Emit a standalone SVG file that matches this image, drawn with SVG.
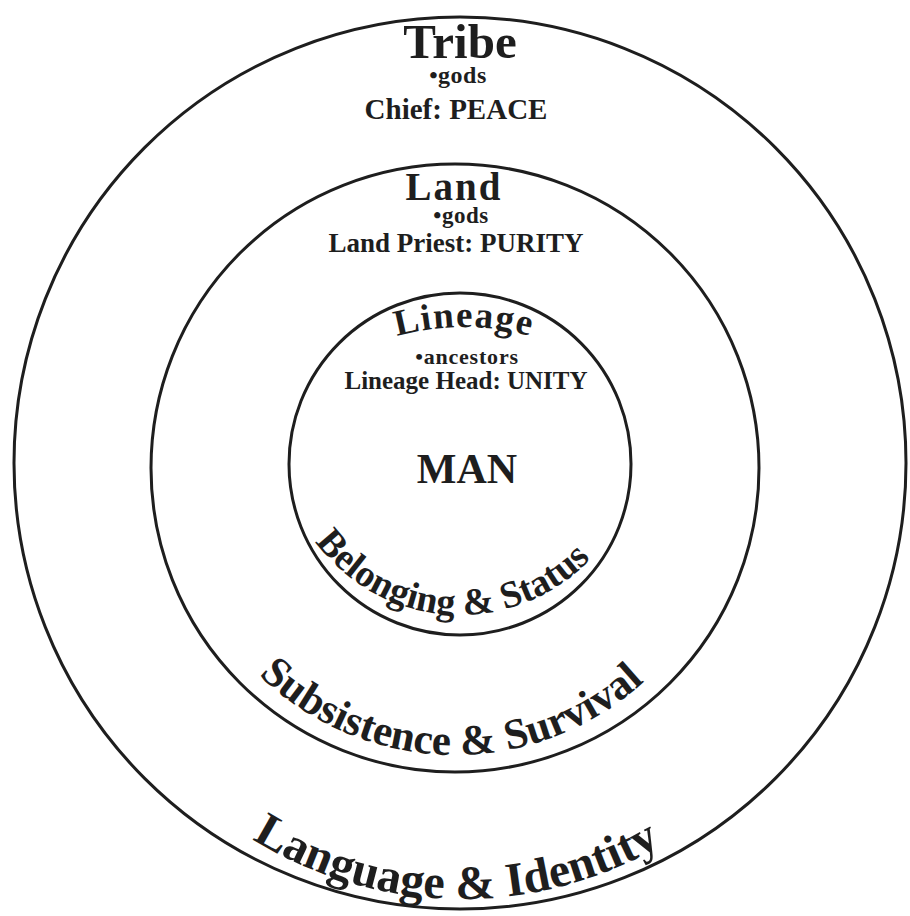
<svg xmlns="http://www.w3.org/2000/svg" xmlns:xlink="http://www.w3.org/1999/xlink" width="910" height="916" viewBox="0 0 910 916">
<style>
.ring{fill:none;stroke:#1e1e1e;stroke-width:3}
text{font-family:"Liberation Serif","Times New Roman",serif;font-weight:bold;fill:#1e1e1e;text-anchor:middle}
</style>
<defs>
<path id="pLineage" d="M 364,348 A 250 250 0 0 1 564,348"/>
<path id="pBelong" d="M 290.9,496.6 A 180 180 0 0 0 629.1,496.6"/>
<path id="pSubs" d="M 212.5,615 A 280 280 0 0 0 697.5,615"/>
<path id="pLang" d="M 181.3,782.7 A 397 397 0 0 0 742.7,782.7"/>
</defs>
<rect width="910" height="916" fill="#ffffff"/>
<g id="tribe">
<circle class="ring" cx="460" cy="463" r="446"/>
<text x="460" y="58" font-size="49">Tribe</text>
<text x="458" y="83" font-size="24" letter-spacing="0.5">•gods</text>
<text x="456" y="119" font-size="29">Chief: PEACE</text>
<text font-size="48"><textPath xlink:href="#pLang" href="#pLang" startOffset="49%">Language &amp; Identity</textPath></text>
</g>
<g id="land">
<circle class="ring" cx="455" cy="468" r="304"/>
<text x="454" y="200" font-size="39" letter-spacing="2">Land</text>
<text x="461" y="223" font-size="23" letter-spacing="0.5">•gods</text>
<text x="456" y="252" font-size="27">Land Priest: PURITY</text>
<text font-size="43"><textPath xlink:href="#pSubs" href="#pSubs" startOffset="49.2%">Subsistence &amp; Survival</textPath></text>
</g>
<g id="lineage">
<circle class="ring" cx="460" cy="464" r="171"/>
<text font-size="37" letter-spacing="1.5"><textPath xlink:href="#pLineage" href="#pLineage" startOffset="50%">Lineage</textPath></text>
<text x="467" y="364" font-size="22" letter-spacing="0.8">•ancestors</text>
<text x="466" y="389" font-size="25">Lineage Head: UNITY</text>
<text font-size="38"><textPath xlink:href="#pBelong" href="#pBelong" startOffset="47.5%">Belonging &amp; Status</textPath></text>
</g>
<g id="man">
<text x="467" y="483" font-size="42">MAN</text>
</g>
<g id="connectors"></g>
</svg>
